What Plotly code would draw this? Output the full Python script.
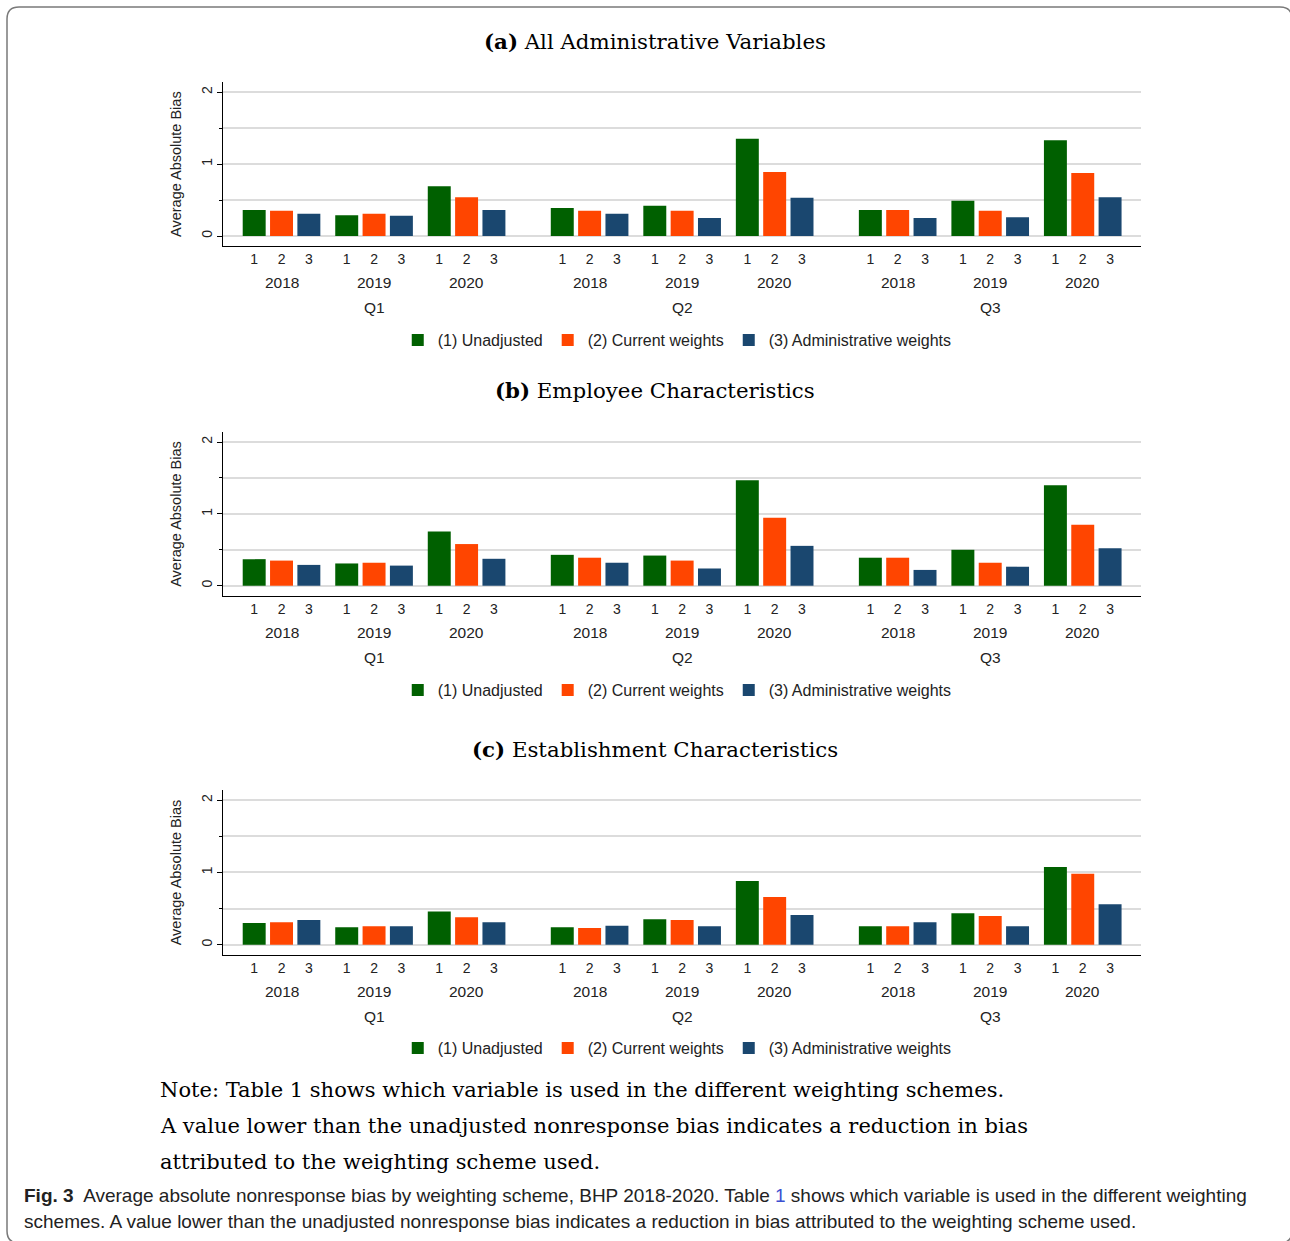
import plotly.graph_objects as go

W, H = 1290, 1241

schemes = ["1", "2", "3"]
years = ["2018", "2019", "2020"]
quarters = ["Q1", "Q2", "Q3"]
legend_names = ["(1) Unadjusted", "(2) Current weights", "(3) Administrative weights"]
colors = ["#006000", "#ff4500", "#1a476f"]
panel_titles = ["<b>(a)</b> All Administrative Variables",
                "<b>(b)</b> Employee Characteristics",
                "<b>(c)</b> Establishment Characteristics"]

# order of values: Q1 2018, Q1 2019, Q1 2020, Q2 2018, Q2 2019, Q2 2020, Q3 2018, Q3 2019, Q3 2020
a_unadjusted = [0.36, 0.29, 0.69, 0.39, 0.42, 1.35, 0.36, 0.49, 1.33]
a_current = [0.35, 0.31, 0.54, 0.35, 0.35, 0.89, 0.36, 0.35, 0.875]
a_admin = [0.31, 0.28, 0.36, 0.31, 0.25, 0.53, 0.25, 0.26, 0.54]

b_unadjusted = [0.37, 0.31, 0.755, 0.43, 0.42, 1.47, 0.39, 0.50, 1.40]
b_current = [0.35, 0.32, 0.58, 0.39, 0.35, 0.945, 0.39, 0.32, 0.85]
b_admin = [0.29, 0.28, 0.375, 0.32, 0.24, 0.555, 0.22, 0.265, 0.52]

c_unadjusted = [0.30, 0.24, 0.46, 0.24, 0.35, 0.88, 0.255, 0.435, 1.075]
c_current = [0.31, 0.255, 0.38, 0.23, 0.34, 0.66, 0.255, 0.395, 0.98]
c_admin = [0.34, 0.255, 0.31, 0.26, 0.255, 0.41, 0.31, 0.255, 0.56]

panels = [
    [a_unadjusted, a_current, a_admin],
    [b_unadjusted, b_current, b_admin],
    [c_unadjusted, c_current, c_admin],
]

# layout constants (pixel geometry of the panels)
QSTEP, YSTEP, BAR_W = 11.27, 3.385, 0.84
XRANGE = [-1.13, 32.43]
YRANGE = [-0.143, 2.14]
X_DOM = [223.3 / W, 1140.7 / W]
panel_px = [(82, 246.3), (432, 596), (790, 955)]   # top, bottom of plot area
legend_py = [340, 690, 1048]
title_py = [41, 391, 749]


def py(p):
    return 1 - p / H


def px(p):
    return p / W


SANS = "Liberation Sans, Arial, sans-serif"
SERIF = "DejaVu Serif, serif"

fig = go.Figure()
annotations = []
layout = dict(
    width=W, height=H,
    margin=dict(l=0, r=0, t=0, b=0),
    paper_bgcolor="white", plot_bgcolor="white",
    barmode="overlay",
    font=dict(family=SANS, color="#222"),
)

for p, vals in enumerate(panels):
    sfx = "" if p == 0 else str(p + 1)
    xa, ya = "x" + sfx, "y" + sfx
    lg = "legend" + sfx
    for s, series in enumerate(vals):
        xs = [q * QSTEP + y * YSTEP + s for q in range(len(quarters)) for y in range(len(years))]
        fig.add_trace(go.Bar(
            x=xs, y=series, width=BAR_W, name=legend_names[s],
            marker=dict(color=colors[s], line=dict(width=0)),
            xaxis=xa, yaxis=ya, legend=lg, showlegend=True,
        ))
    tickvals, ticktext = [], []
    for q in range(len(quarters)):
        for y in range(len(years)):
            for s in range(len(schemes)):
                tickvals.append(q * QSTEP + y * YSTEP + s)
                ticktext.append(schemes[s])

    top, bot = panel_px[p]
    layout["xaxis" + sfx] = dict(
        domain=X_DOM, range=XRANGE, anchor=ya,
        showgrid=False, zeroline=False, showline=True, linecolor="black", linewidth=1.3,
        tickvals=tickvals, ticktext=ticktext, ticks="", ticklabelstandoff=0,
        tickfont=dict(size=14, family=SANS, color="#222"), fixedrange=True,
    )
    layout["yaxis" + sfx] = dict(
        domain=[py(bot), py(top)], range=YRANGE, anchor=xa,
        showline=True, linecolor="black", linewidth=1.3, zeroline=False,
        tickvals=[0, 1, 2], ticktext=["0", "1", "2"], ticks="outside", ticklen=5,
        tickcolor="black", tickangle=-90,
        tickfont=dict(size=14, family=SANS, color="#222"),
        showgrid=True, gridcolor="#dcdcdc", gridwidth=1.5,
        minor=dict(tickvals=[0.5, 1.5], ticks="outside", ticklen=3, tickcolor="black",
                   showgrid=True, gridcolor="#dcdcdc", gridwidth=1.5),
        title=dict(text="Average Absolute Bias", font=dict(size=14.5, family=SANS, color="#222"),
                   standoff=13),
        fixedrange=True,
    )
    layout[lg] = dict(
        orientation="h", x=0.525, xanchor="center", y=py(legend_py[p]), yanchor="middle",
        font=dict(size=16, family=SANS, color="#222"), bgcolor="rgba(0,0,0,0)",
        traceorder="normal", itemwidth=30,
    )
    for q in range(len(quarters)):
        for y in range(len(years)):
            annotations.append(dict(
                x=q * QSTEP + y * YSTEP + 1, xref=xa, y=py(bot + 36), yref="paper",
                text=years[y], showarrow=False, xanchor="center", yanchor="middle",
                font=dict(size=15.5, family=SANS, color="#222"),
            ))
        annotations.append(dict(
            x=q * QSTEP + 1 * YSTEP + 1, xref=xa, y=py(bot + 61), yref="paper",
            text=quarters[q], showarrow=False, xanchor="center", yanchor="middle",
            font=dict(size=15.5, family=SANS, color="#222"),
        ))
    annotations.append(dict(
        x=px(654.5), y=py(title_py[p]), xref="paper", yref="paper",
        text=panel_titles[p], showarrow=False, xanchor="center", yanchor="middle",
        font=dict(size=21.3, family=SERIF, color="black"),
    ))

note_lines = [
    "Note: Table 1 shows which variable is used in the different weighting schemes.",
    "A value lower than the unadjusted nonresponse bias indicates a reduction in bias",
    "attributed to the weighting scheme used.",
]
for i, line in enumerate(note_lines):
    annotations.append(dict(
        x=px(158), y=py(1090 + 36 * i), xref="paper", yref="paper",
        text=line, showarrow=False, xanchor="left", yanchor="middle",
        font=dict(size=21, family=SERIF, color="black"),
    ))

caption_lines = [
    "<b>Fig. 3</b>  Average absolute nonresponse bias by weighting scheme, BHP 2018-2020. Table "
    "<span style='color:#3b4fd1'>1</span> shows which variable is used in the different weighting",
    "schemes. A value lower than the unadjusted nonresponse bias indicates a reduction in bias "
    "attributed to the weighting scheme used.",
]
for i, line in enumerate(caption_lines):
    annotations.append(dict(
        x=px(22), y=py(1195 + 26 * i), xref="paper", yref="paper",
        text=line, showarrow=False, xanchor="left", yanchor="middle",
        font=dict(size=19, family=SANS, color="#222"),
    ))

# rounded frame (right and bottom edges sit just outside the picture, as in the reference)
L, T, R, B, r = 7, 7, 1292, 1243, 12
path = (f"M {px(L)} {py(T + r)} Q {px(L)} {py(T)} {px(L + r)} {py(T)} "
        f"L {px(R - r)} {py(T)} Q {px(R)} {py(T)} {px(R)} {py(T + r)} "
        f"L {px(R)} {py(B - r)} Q {px(R)} {py(B)} {px(R - r)} {py(B)} "
        f"L {px(L + r)} {py(B)} Q {px(L)} {py(B)} {px(L)} {py(B - r)} Z")
layout["shapes"] = [dict(type="path", path=path, xref="paper", yref="paper",
                         line=dict(color="#7a7a7a", width=1.5), layer="below")]
layout["annotations"] = annotations

fig.update_layout(**layout)
fig.write_html("out.html", config={"displayModeBar": False},
               post_script="document.body.style.margin='0px';")
